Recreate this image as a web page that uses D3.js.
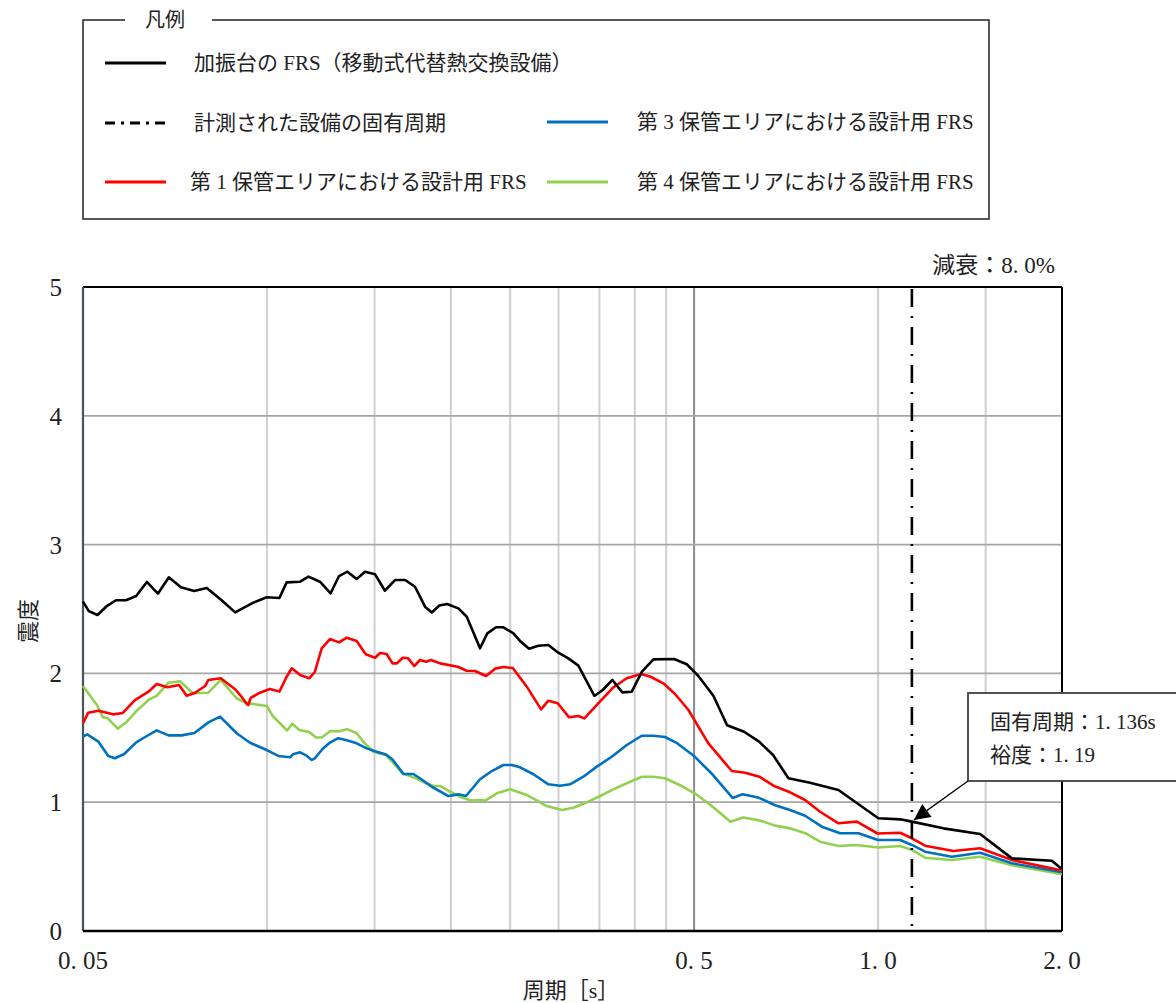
<!DOCTYPE html>
<html>
<head>
<meta charset="utf-8">
<script src="https://cdn.jsdelivr.net/npm/d3@7"></script>
<style>
  body { margin: 0; background: #fff; }
  svg text { font-family: "Liberation Serif", "Noto Sans CJK JP", serif; fill: #222; }
</style>
</head>
<body>
<div id="chart"></div>
<script>
// 加振台の FRS（移動式代替熱交換設備） [period s, 震度]
var frsTable = [
  [0.050,2.557],[0.0511,2.484],[0.0528,2.453],[0.0547,2.523],[0.0566,2.568],[0.0588,2.568],
  [0.0611,2.601],[0.0636,2.710],[0.0663,2.619],[0.0691,2.746],[0.0723,2.668],[0.0760,2.640],
  [0.0797,2.663],[0.0843,2.568],[0.0887,2.474],[0.0950,2.549],[0.0999,2.591],[0.1048,2.585],
  [0.1077,2.707],[0.1133,2.712],[0.1169,2.751],[0.1221,2.712],[0.1271,2.622],[0.1312,2.756],
  [0.1354,2.790],[0.1402,2.733],[0.1447,2.790],[0.1503,2.769],[0.1560,2.642],[0.1620,2.725],
  [0.1683,2.725],[0.1747,2.673],[0.1814,2.518],[0.1861,2.473],[0.1915,2.527],[0.1971,2.539],
  [0.2057,2.505],[0.2123,2.440],[0.2232,2.195],[0.2294,2.311],[0.2371,2.358],[0.2437,2.358],
  [0.2531,2.311],[0.2595,2.252],[0.2685,2.192],[0.2781,2.215],[0.2887,2.220],[0.2998,2.161],
  [0.3113,2.117],[0.3233,2.060],[0.3316,1.962],[0.3434,1.825],[0.3544,1.871],[0.3675,1.949],
  [0.3816,1.853],[0.3953,1.858],[0.4105,2.011],[0.4289,2.109],[0.4637,2.112],[0.4864,2.071],
  [0.5081,1.980],[0.5377,1.826],[0.5662,1.598],[0.6037,1.547],[0.6388,1.470],[0.6734,1.366],
  [0.7134,1.186],[0.7739,1.151],[0.8613,1.095],[1.001,0.875],[1.087,0.867],[1.136,0.849],
  [1.279,0.797],[1.469,0.753],[1.656,0.564],[1.925,0.546],[2.0,0.479]
];

// 第1保管エリアにおける設計用 FRS
var area1Table = [
  [0.050,1.613],[0.0510,1.695],[0.0530,1.710],[0.0560,1.682],[0.0581,1.693],[0.0608,1.793],
  [0.0640,1.858],[0.0660,1.918],[0.0687,1.892],[0.0718,1.910],[0.0739,1.827],[0.0763,1.850],
  [0.0792,1.902],[0.0802,1.949],[0.0840,1.962],[0.0887,1.877],[0.0904,1.832],[0.0927,1.762],
  [0.0932,1.755],[0.0941,1.811],[0.0974,1.850],[0.1011,1.879],[0.1048,1.859],[0.1077,1.974],
  [0.1098,2.040],[0.1133,1.988],[0.1173,1.962],[0.1198,2.013],[0.1229,2.195],[0.1268,2.267],
  [0.1312,2.241],[0.1351,2.277],[0.1402,2.252],[0.1451,2.148],[0.1503,2.122],[0.1531,2.158],
  [0.1570,2.151],[0.1605,2.078],[0.1631,2.078],[0.1668,2.121],[0.1702,2.117],[0.1742,2.057],
  [0.1780,2.104],[0.1821,2.091],[0.1856,2.104],[0.1920,2.078],[0.2051,2.052],[0.2123,2.021],
  [0.2191,2.019],[0.2283,1.980],[0.2362,2.037],[0.2437,2.050],[0.2525,2.042],[0.2662,1.897],
  [0.2809,1.721],[0.2887,1.788],[0.2991,1.768],[0.3122,1.659],[0.3233,1.669],[0.3307,1.651],
  [0.3466,1.755],[0.3688,1.892],[0.3880,1.962],[0.4094,1.995],[0.4244,1.974],[0.4453,1.923],
  [0.4654,1.840],[0.4894,1.716],[0.5277,1.457],[0.5763,1.242],[0.6060,1.229],[0.6395,1.198],
  [0.6742,1.128],[0.7179,1.077],[0.7597,1.017],[0.8039,0.926],[0.8613,0.836],[0.9233,0.849],
  [0.998,0.757],[1.087,0.763],[1.136,0.720],[1.194,0.662],[1.328,0.621],[1.469,0.642],
  [1.656,0.551],[2.0,0.470]
];

// 第3保管エリアにおける設計用 FRS
var area3Table = [
  [0.050,1.509],[0.0508,1.527],[0.0530,1.470],[0.0550,1.359],[0.0564,1.341],[0.0584,1.374],
  [0.0611,1.465],[0.0636,1.514],[0.0660,1.558],[0.0690,1.519],[0.0725,1.519],[0.0761,1.537],
  [0.0802,1.620],[0.0838,1.664],[0.0892,1.535],[0.0938,1.462],[0.0999,1.405],[0.1044,1.359],
  [0.1091,1.349],[0.1103,1.372],[0.1133,1.387],[0.1161,1.361],[0.1184,1.328],[0.1198,1.341],
  [0.1233,1.413],[0.1268,1.463],[0.1308,1.497],[0.1351,1.481],[0.1402,1.457],[0.1456,1.418],
  [0.1503,1.396],[0.1566,1.370],[0.1605,1.332],[0.1641,1.271],[0.1672,1.220],[0.1736,1.219],
  [0.1792,1.176],[0.1861,1.120],[0.1981,1.048],[0.2057,1.061],[0.2117,1.048],[0.2232,1.178],
  [0.2333,1.242],[0.2437,1.289],[0.2516,1.289],[0.2595,1.271],[0.2729,1.217],[0.2887,1.139],
  [0.3017,1.128],[0.3133,1.139],[0.3294,1.198],[0.3466,1.276],[0.3666,1.353],[0.3880,1.444],
  [0.4105,1.516],[0.4289,1.516],[0.4482,1.506],[0.4672,1.463],[0.4987,1.363],[0.5331,1.227],
  [0.5780,1.033],[0.6003,1.062],[0.6388,1.034],[0.6785,0.976],[0.7179,0.939],[0.7597,0.895],
  [0.8091,0.810],[0.8668,0.759],[0.9289,0.759],[1.0,0.707],[1.087,0.707],[1.136,0.668],
  [1.194,0.616],[1.320,0.577],[1.469,0.608],[1.656,0.526],[2.0,0.456]
];

// 第4保管エリアにおける設計用 FRS
var area4Table = [
  [0.050,1.902],[0.0510,1.846],[0.0527,1.755],[0.0539,1.659],[0.0548,1.654],[0.0570,1.571],
  [0.0590,1.625],[0.0614,1.716],[0.0642,1.799],[0.0660,1.825],[0.0690,1.928],[0.0721,1.939],
  [0.0756,1.846],[0.0802,1.850],[0.0840,1.949],[0.0892,1.807],[0.0921,1.773],[0.0956,1.760],
  [0.0999,1.747],[0.1022,1.669],[0.1053,1.607],[0.1079,1.557],[0.1100,1.609],[0.1130,1.561],
  [0.1172,1.545],[0.1203,1.502],[0.1229,1.502],[0.1270,1.553],[0.1312,1.550],[0.1352,1.567],
  [0.1401,1.537],[0.1442,1.463],[0.1493,1.392],[0.1566,1.366],[0.1614,1.297],[0.1668,1.224],
  [0.1751,1.186],[0.1814,1.151],[0.1872,1.126],[0.1920,1.126],[0.1981,1.089],[0.2070,1.043],
  [0.2163,1.012],[0.2232,1.017],[0.2275,1.012],[0.2377,1.069],[0.2500,1.100],[0.2662,1.056],
  [0.2870,0.970],[0.3037,0.939],[0.3173,0.957],[0.3337,0.999],[0.3509,1.048],[0.3688,1.100],
  [0.3880,1.147],[0.4105,1.198],[0.4289,1.198],[0.4482,1.186],[0.4752,1.130],[0.5057,1.056],
  [0.5361,0.965],[0.5737,0.849],[0.6014,0.881],[0.6395,0.859],[0.6785,0.818],[0.7179,0.797],
  [0.7597,0.759],[0.8039,0.693],[0.8613,0.660],[0.9233,0.668],[1.0,0.648],[1.087,0.660],
  [1.136,0.629],[1.194,0.569],[1.320,0.551],[1.469,0.577],[1.656,0.510],[2.0,0.440]
];

var seriesNames = [
  "加振台の FRS（移動式代替熱交換設備）",
  "第 1 保管エリアにおける設計用 FRS",
  "第 3 保管エリアにおける設計用 FRS",
  "第 4 保管エリアにおける設計用 FRS"
];
var seriesColors = ["#000000", "#ff0000", "#0070c0", "#92d050"];
var periodLineName = "計測された設備の固有周期";

var xTickValues = [0.05, 0.5, 1.0, 2.0];
var xTickLabels = ["0. 05", "0. 5", "1. 0", "2. 0"];
var xGridValues = [0.1, 0.15, 0.2, 0.25, 0.3, 0.35, 0.4, 0.45, 0.5, 1.0, 1.5];
var yTickValues = [0, 1, 2, 3, 4, 5];

var naturalPeriod = 1.136;
var arrowValue = 0.855;
var annotationLines = ["固有周期：1. 136s", "裕度：1. 19"];
var dampingText = "減衰：8. 0%";

var W = 1176, H = 1003;
var margin = {top: 287, right: 114, bottom: 72, left: 83};
var width = W - margin.left - margin.right,
    height = H - margin.top - margin.bottom;

var svg = d3.select("#chart").append("svg")
  .attr("width", W).attr("height", H);

var x = d3.scaleLog().domain([0.05, 2.0]).range([margin.left, margin.left + width]);
var y = d3.scaleLinear().domain([0, 5]).range([margin.top + height, margin.top]);

// grid
svg.append("g").selectAll("line")
  .data(xGridValues).enter().append("line")
  .attr("x1", d => x(d)).attr("x2", d => x(d))
  .attr("y1", y(0)).attr("y2", y(5))
  .attr("stroke", d => d === 0.5 ? "#8c8c8c" : "#d0d0d0")
  .attr("stroke-width", 2);

svg.append("g").selectAll("line")
  .data(yTickValues.filter(d => d > 0 && d < 5)).enter().append("line")
  .attr("x1", x(0.05)).attr("x2", x(2.0))
  .attr("y1", d => y(d)).attr("y2", d => y(d))
  .attr("stroke", "#a6a6a6")
  .attr("stroke-width", 1.8);

// frame
svg.append("line").attr("x1", x(0.05)).attr("x2", x(2.0)).attr("y1", y(5)).attr("y2", y(5))
  .attr("stroke", "#000").attr("stroke-width", 2.2);
svg.append("line").attr("x1", x(2.0)).attr("x2", x(2.0)).attr("y1", y(5)).attr("y2", y(0))
  .attr("stroke", "#000").attr("stroke-width", 2);
svg.append("line").attr("x1", x(0.05)).attr("x2", x(0.05)).attr("y1", y(5)).attr("y2", y(0))
  .attr("stroke", "#4a525c").attr("stroke-width", 2.2);

// series
var line = d3.line().x(d => x(d[0])).y(d => y(d[1]));
var tables = [area4Table, area3Table, area1Table, frsTable];
var colorsDrawOrder = [seriesColors[3], seriesColors[2], seriesColors[1], seriesColors[0]];
tables.forEach(function(t, i) {
  svg.append("path").datum(t)
    .attr("d", line)
    .attr("fill", "none")
    .attr("stroke", colorsDrawOrder[i])
    .attr("stroke-width", 2.6)
    .attr("stroke-linejoin", "round");
});

svg.append("line").attr("x1", x(0.05)).attr("x2", x(2.0)).attr("y1", y(0)).attr("y2", y(0))
  .attr("stroke", "#000").attr("stroke-width", 2.6);

// natural period line
svg.append("line")
  .attr("x1", x(naturalPeriod)).attr("x2", x(naturalPeriod))
  .attr("y1", y(5) + 2).attr("y2", y(0))
  .attr("stroke", "#000").attr("stroke-width", 2.6)
  .attr("stroke-dasharray", "18,9,2,9");

// axes labels
svg.append("g").selectAll("text")
  .data(yTickValues).enter().append("text")
  .attr("x", 62).attr("y", d => y(d) + 9)
  .attr("text-anchor", "end")
  .style("font-size", "25px")
  .text(d => d);

svg.append("g").selectAll("text")
  .data(xTickValues).enter().append("text")
  .attr("x", d => x(d)).attr("y", 969)
  .attr("text-anchor", "middle")
  .style("font-size", "25px")
  .text((d, i) => xTickLabels[i]);

svg.append("text")
  .attr("transform", "translate(36,621) rotate(-90)")
  .attr("text-anchor", "middle")
  .style("font-size", "22px")
  .text("震度");

svg.append("text")
  .attr("x", 571).attr("y", 998)
  .attr("text-anchor", "middle")
  .style("font-size", "22px")
  .text("周期［s］");

svg.append("text")
  .attr("x", 1055).attr("y", 273)
  .attr("text-anchor", "end")
  .style("font-size", "23px")
  .text(dampingText);

// annotation
var boxX = 968, boxY = 693, boxW = 220, boxH = 88;
svg.append("rect")
  .attr("x", boxX).attr("y", boxY).attr("width", boxW).attr("height", boxH)
  .attr("fill", "#fff").attr("stroke", "#404040").attr("stroke-width", 1.8);
annotationLines.forEach(function(s, i) {
  svg.append("text")
    .attr("x", 990).attr("y", 729 + i * 33)
    .style("font-size", "21px")
    .text(s);
});

svg.append("defs").append("marker")
  .attr("id", "ah").attr("viewBox", "0 0 10 10")
  .attr("refX", 10).attr("refY", 5)
  .attr("markerWidth", 18).attr("markerHeight", 16)
  .attr("markerUnits", "userSpaceOnUse")
  .attr("orient", "auto")
  .append("path").attr("d", "M0,0 L10,5 L0,10 Z").attr("fill", "#000");

svg.append("line")
  .attr("x1", boxX).attr("y1", boxY + boxH)
  .attr("x2", x(naturalPeriod) + 2).attr("y2", y(arrowValue) - 1)
  .attr("stroke", "#000").attr("stroke-width", 1.3)
  .attr("marker-end", "url(#ah)");

// legend
var lg = svg.append("g");
lg.append("path")
  .attr("d", "M125,20 L83,20 L83,219 L989,219 L989,20 L212,20")
  .attr("fill", "none").attr("stroke", "#222").attr("stroke-width", 1.5);
lg.append("text").attr("x", 145).attr("y", 27).style("font-size", "20px").text("凡例");

var legendItems = [
  {name: seriesNames[0], color: seriesColors[0], lx: 105, ly: 63, tx: 194, dash: null},
  {name: periodLineName, color: "#000", lx: 105, ly: 123, tx: 194, dash: "10,6,3,6"},
  {name: seriesNames[1], color: seriesColors[1], lx: 105, ly: 182, tx: 190, dash: null},
  {name: seriesNames[2], color: seriesColors[2], lx: 547, ly: 122, tx: 637, dash: null},
  {name: seriesNames[3], color: seriesColors[3], lx: 547, ly: 182, tx: 637, dash: null}
];
legendItems.forEach(function(d) {
  lg.append("line")
    .attr("x1", d.lx).attr("x2", d.lx + 61)
    .attr("y1", d.ly).attr("y2", d.ly)
    .attr("stroke", d.color).attr("stroke-width", 3)
    .attr("stroke-dasharray", d.dash);
  lg.append("text")
    .attr("x", d.tx).attr("y", d.ly + 7)
    .style("font-size", "21px")
    .text(d.name);
});
</script>
</body>
</html>
